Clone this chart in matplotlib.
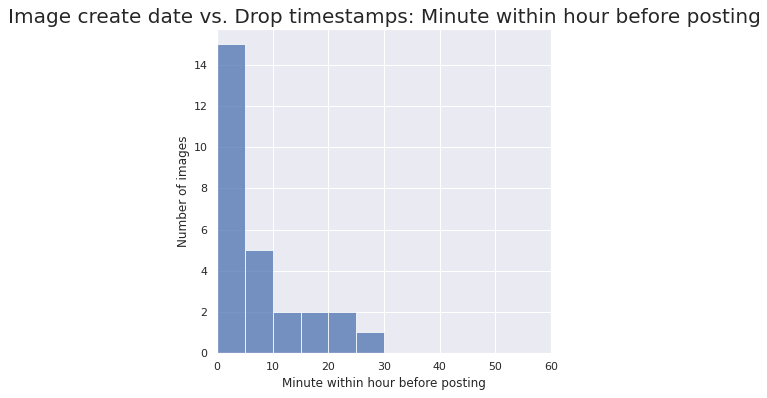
import matplotlib
matplotlib.use("Agg")
import matplotlib.pyplot as plt
import seaborn as sns

# histogram bins (minutes) and counts
bin_edges = [0, 5, 10, 15, 20, 25, 30]
counts = [15, 5, 2, 2, 2, 1]

sns.set_theme()

dpi = 72
fig = plt.figure(figsize=(767 / dpi, 398 / dpi), dpi=dpi)
ax = fig.add_axes([217 / 767, 1 - 353 / 398, (551 - 217) / 767, (353 - 29) / 398])

ax.hist(bin_edges[:-1], bins=bin_edges, weights=counts,
        color=sns.color_palette()[0], alpha=0.75, edgecolor="white", linewidth=1)

ax.set_xlim(0, 60)
ax.set_ylim(0, max(counts) * 1.05)
ax.set_xlabel("Minute within hour before posting")
ax.set_ylabel("Number of images")
ax.set_title("Image create date vs. Drop timestamps: Minute within hour before posting",
             fontsize=20)

fig.savefig("out.png", dpi=dpi)
